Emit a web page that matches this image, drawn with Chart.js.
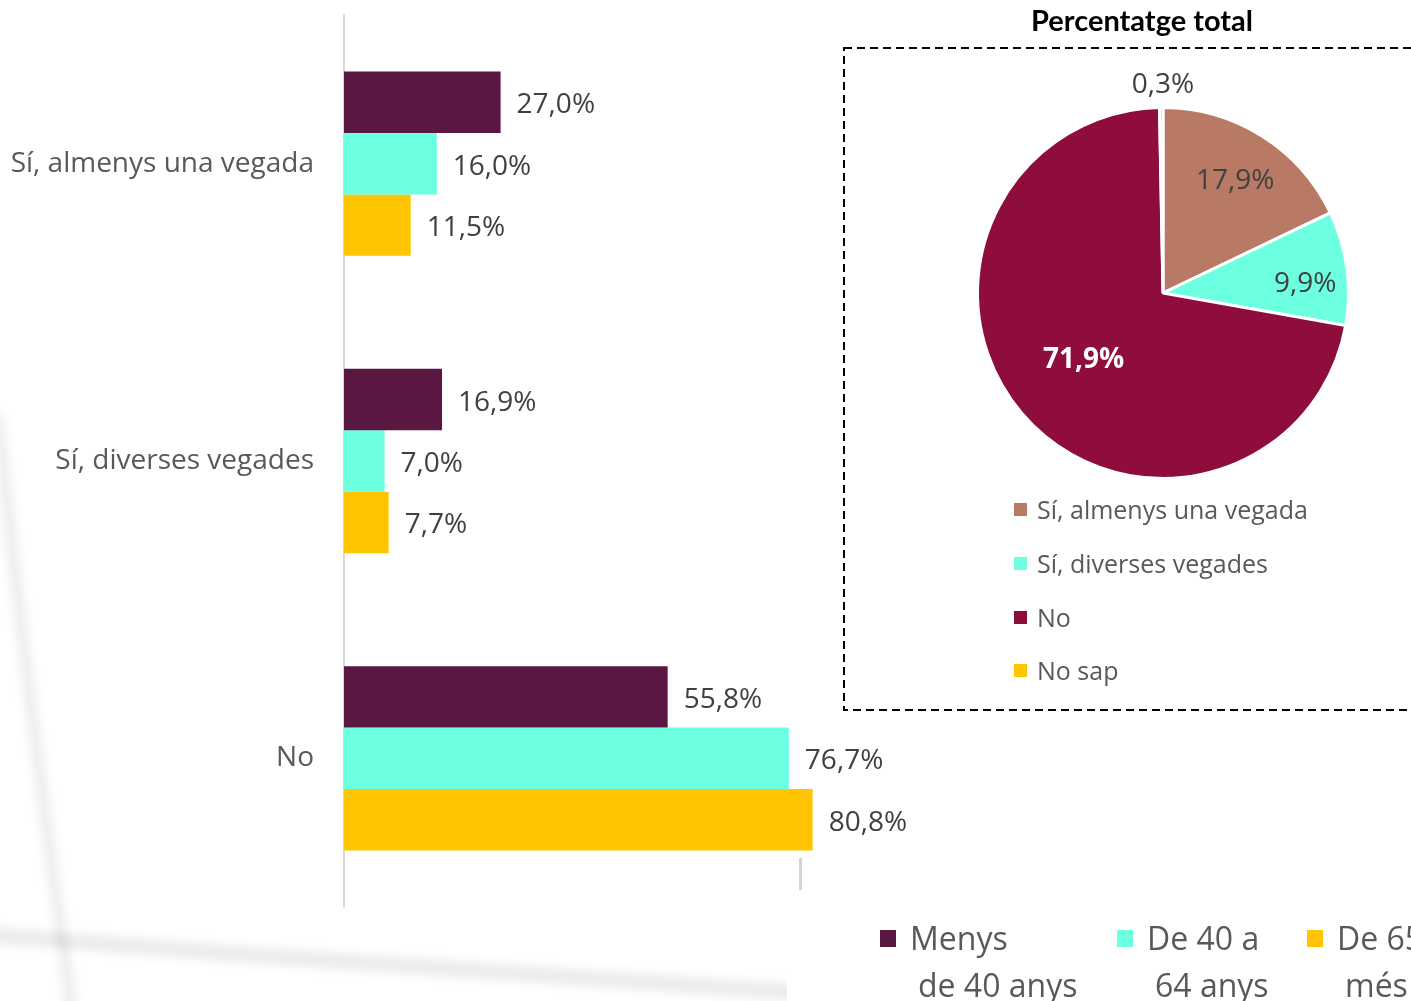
<!DOCTYPE html>
<html>
<head>
<meta charset="utf-8">
<script src="https://cdn.jsdelivr.net/npm/chart.js@4.4.1/dist/chart.umd.min.js"></script>
<style>
  body { margin: 0; background: #ffffff; width: 1411px; height: 1001px; overflow: hidden; position: relative; font-family: 'Open Sans', sans-serif; }
  #bg { position: absolute; left: 0; top: 0; }
  #barBox { position: absolute; left: 0; top: 0; width: 930px; height: 1001px; }
  #pieBox { position: absolute; left: 843px; top: 0; width: 568px; height: 712px; }
  .pieLegend { position: absolute; left: 1014px; font-size: 25px; color: #595959; line-height: 1; }
  .pieLegend span.sw { display: inline-block; width: 13px; height: 13px; margin-right: 10px; vertical-align: 3px; }
  .barLegend { position: absolute; top: 914px; font-size: 32px; color: #595959; line-height: 47px; }
  .barLegend .sw { position: absolute; left: 0; top: 16px; width: 16px; height: 17px; }
  .barLegend .txt { position: absolute; left: 30px; top: 0; white-space: nowrap; }
  .barLegend .txt div + div { padding-left: 8px; }
</style>
</head>
<body>
<canvas id="bg" width="1411" height="1001"></canvas>
<div id="barBox"><canvas id="barChart"></canvas></div>
<div id="pieBox"><canvas id="pieChart"></canvas></div>
<div id="pieLegend"></div>
<div id="barLegend"></div>
<script>
const categories = ['Sí, almenys una vegada', 'Sí, diverses vegades', 'No'];
const seriesNames = ['Menys de 40 anys', 'De 40 a 64 anys', 'De 65 i més'];
const legendLines = [['Menys', 'de 40 anys'], ['De 40 a', '64 anys'], ['De 65 i', 'més']];
const under40 = [27.0, 16.9, 55.8];
const from40to64 = [16.0, 7.0, 76.7];
const from65 = [11.5, 7.7, 80.8];
const seriesColors = ['#5a1742', '#6cffe0', '#ffc500'];

const pieTitle = 'Percentatge total';
const pieLabels = ['Sí, almenys una vegada', 'Sí, diverses vegades', 'No', 'No sap'];
const pieValues = [17.9, 9.9, 71.9, 0.3];
const pieColors = ['#b87965', '#6cffe0', '#8e0d3c', '#ffc500'];

const fmt = v => v.toFixed(1).replace('.', ',') + '%';

// fons: línies grises suaus de la imatge original
(function () {
  const c = document.getElementById('bg').getContext('2d');
  c.lineCap = 'round';
  c.filter = 'blur(5px)';
  c.strokeStyle = 'rgba(0,0,0,0.08)';
  c.lineWidth = 16;
  c.beginPath(); c.moveTo(-10, 935); c.lineTo(250, 955); c.lineTo(790, 992); c.stroke();
  c.lineWidth = 12;
  c.strokeStyle = 'rgba(0,0,0,0.07)';
  c.beginPath(); c.moveTo(-2, 420); c.quadraticCurveTo(30, 720, 72, 1010); c.stroke();
  c.filter = 'none';
  c.fillStyle = '#ffffff';
  c.fillRect(787, 858, 624, 143);
  c.fillStyle = '#d4d4d4';
  c.fillRect(799, 858, 3, 32);
})();

const barLabelsPlugin = {
  id: 'barLabels',
  afterDatasetsDraw(chart) {
    const ctx = chart.ctx;
    ctx.save();
    ctx.font = '28px "Open Sans"';
    ctx.fillStyle = '#404040';
    ctx.textAlign = 'left';
    ctx.textBaseline = 'middle';
    chart.data.datasets.forEach((ds, i) => {
      chart.getDatasetMeta(i).data.forEach((bar, j) => {
        ctx.fillText(fmt(ds.data[j]), bar.x + 16, bar.y + 3);
      });
    });
    ctx.restore();
  }
};

new Chart(document.getElementById('barChart'), {
  type: 'bar',
  data: {
    labels: categories,
    datasets: [
      { label: seriesNames[0], data: under40, backgroundColor: seriesColors[0] },
      { label: seriesNames[1], data: from40to64, backgroundColor: seriesColors[1] },
      { label: seriesNames[2], data: from65, backgroundColor: seriesColors[2] },
    ],
  },
  options: {
    indexAxis: 'y',
    maintainAspectRatio: false,
    responsive: true,
    animation: false,
    categoryPercentage: 0.62,
    barPercentage: 1,
    layout: { padding: { top: 15, bottom: 94, right: 6, left: 0 } },
    plugins: { legend: { display: false }, tooltip: { enabled: false } },
    scales: {
      x: { min: 0, max: 100, display: false },
      y: {
        afterFit(scale) { scale.width = 344; scale.paddingTop = 0; scale.paddingBottom = 0; },
        grid: { display: false },
        border: { display: true, color: '#d9d9d9', width: 2 },
        ticks: { color: '#595959', padding: 22, font: { family: 'Open Sans', size: 28 } },
      },
    },
  },
  plugins: [barLabelsPlugin],
});

const pieLabelsPlugin = {
  id: 'pieLabels',
  beforeDraw(chart, args, opts) {
    const ctx = chart.ctx;
    ctx.save();
    // marc discontinu
    ctx.strokeStyle = '#000';
    ctx.lineWidth = 2;
    ctx.setLineDash([8, 5]);
    ctx.strokeRect(1, 48, 620, 662);
    // títol
    ctx.font = 'bold 29px Lato';
    ctx.fillStyle = '#000';
    ctx.textAlign = 'center';
    ctx.textBaseline = 'middle';
    ctx.fillText(opts.title, 299, 22);
    ctx.restore();
  },
  afterDatasetsDraw(chart, args, opts) {
    const ctx = chart.ctx;
    const meta = chart.getDatasetMeta(0);
    ctx.save();
    ctx.textAlign = 'center';
    ctx.textBaseline = 'middle';
    meta.data.forEach((arc, i) => {
      const p = opts.place[i];
      const mid = p.angle !== undefined ? p.angle * Math.PI / 180 : (arc.startAngle + arc.endAngle) / 2;
      const r = p.outside ? arc.outerRadius + p.outside : arc.outerRadius * p.r;
      ctx.font = (p.bold ? 'bold ' : '') + '28px "Open Sans"';
      ctx.fillStyle = p.color || '#404040';
      ctx.fillText(fmt(pieValues[i]), arc.x + Math.cos(mid) * r, arc.y + Math.sin(mid) * r + 3);
    });
    ctx.restore();
  }
};

new Chart(document.getElementById('pieChart'), {
  type: 'pie',
  data: {
    labels: pieLabels,
    datasets: [{ data: pieValues, backgroundColor: pieColors, borderColor: '#ffffff', borderWidth: 3 }],
  },
  options: {
    maintainAspectRatio: false,
    responsive: true,
    animation: false,
    layout: { padding: { left: 133, right: 61, top: 106, bottom: 232 } },
    plugins: {
      legend: { display: false },
      tooltip: { enabled: false },
      pieLabels: {
        title: pieTitle,
        place: [
          { r: 0.73 },
          { r: 0.77, angle: -5 },
          { r: 0.55, angle: 141, color: '#ffffff', bold: true },
          { outside: 25, angle: -90 },
        ],
      },
    },
  },
  plugins: [pieLabelsPlugin],
});

// llegenda del pastís
const pieLegendTops = [497, 551, 605, 658];
document.getElementById('pieLegend').innerHTML = pieLabels.map((l, i) =>
  `<div class="pieLegend" style="top:${pieLegendTops[i]}px"><span class="sw" style="background:${pieColors[i]}"></span>${l}</div>`
).join('');

// llegenda de barres
const barLegendLefts = [880, 1117, 1307];
document.getElementById('barLegend').innerHTML = legendLines.map((lines, i) =>
  `<div class="barLegend" style="left:${barLegendLefts[i]}px"><span class="sw" style="background:${seriesColors[i]}"></span>` +
  `<div class="txt">${lines.map(t => `<div>${t}</div>`).join('')}</div></div>`
).join('');
</script>
</body>
</html>
